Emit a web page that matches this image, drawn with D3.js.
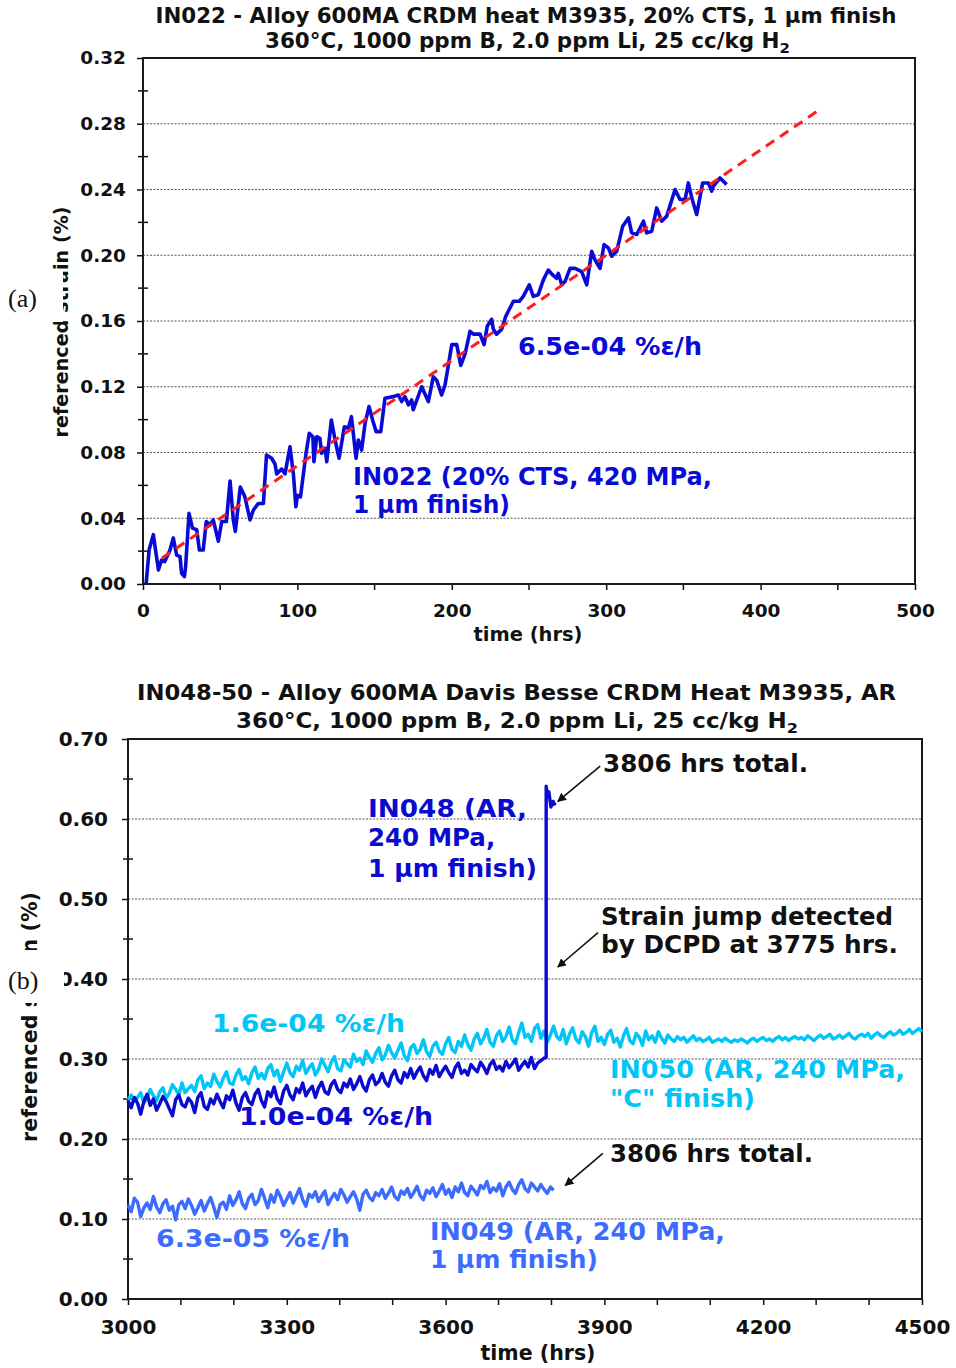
<!DOCTYPE html>
<html><head><meta charset="utf-8">
<script src="https://cdn.jsdelivr.net/npm/d3@7"></script>
<style>
body{margin:0;background:#fff}
svg{display:block}
text{font-family:"DejaVu Sans",Verdana,sans-serif;font-weight:bold}
</style>
</head><body>
<svg id="c" width="956" height="1368"></svg>
<script>
// ---------------- DATA: panel (a) ----------------
const topTimes = [2,4,6.7,10,12,14,17.5,19.6,21.8,24,25,26.8,27.6,29.8,32,34.8,36.5,39,41,43.4,45.5,48.8,51,54,56.4,58.5,59.8,63,66,69.3,71.5,74.7,78,80,83.3,85.5,86.6,89.8,92,95.2,97.4,99,100,102,105.6,107.7,110,110.7,112.5,114.6,115.7,118,119,122,124.4,127,130.4,133,135,138,139.5,141.6,143.8,146.4,148.7,151,154,156.7,162,165.4,167.5,169.7,171.9,174,175,180.5,184.8,188,190.2,193.4,195.6,200,203.2,205.8,208.6,211.8,214,218.3,220.9,223,225.8,226.9,229,232.3,235,239.9,243.7,246.3,250.2,252.8,256,259.3,262.5,265.3,267.9,269,271.2,273.3,276.6,279.8,284.1,287.4,290.6,292.8,296,298.6,301.4,303.6,306.8,310.7,314.4,316.5,319.8,324.1,326.2,329.5,332.7,335.9,339.2,344.6,347.8,351.1,353.2,355.4,358.6,362.5,366.2,368.3,369.4,373.7,378];
const topStrain = [0.000,0.021,0.030,0.0085,0.0146,0.0136,0.0207,0.028,0.0176,0.0166,0.0065,0.0045,0.0105,0.043,0.034,0.033,0.0207,0.0207,0.038,0.036,0.039,0.026,0.038,0.038,0.0627,0.039,0.032,0.059,0.053,0.039,0.045,0.049,0.049,0.0785,0.0765,0.073,0.067,0.070,0.067,0.0835,0.067,0.047,0.054,0.053,0.0795,0.0917,0.0896,0.0744,0.0896,0.0886,0.0795,0.0825,0.0744,0.0998,0.0876,0.0765,0.0957,0.0947,0.1018,0.0765,0.0876,0.0815,0.0977,0.108,0.0998,0.0927,0.0927,0.113,0.114,0.115,0.111,0.114,0.109,0.112,0.106,0.120,0.111,0.126,0.124,0.115,0.121,0.1456,0.1456,0.133,0.140,0.1537,0.152,0.152,0.1456,0.157,0.161,0.155,0.152,0.155,0.163,0.172,0.172,0.175,0.182,0.175,0.176,0.185,0.191,0.188,0.186,0.189,0.182,0.184,0.192,0.192,0.190,0.182,0.2024,0.197,0.192,0.2065,0.2045,0.1994,0.2024,0.2177,0.2227,0.2136,0.2126,0.2207,0.2136,0.2146,0.2288,0.2207,0.2238,0.240,0.2339,0.2339,0.244,0.235,0.2248,0.244,0.244,0.239,0.242,0.247,0.243];
const topFitTimes = [12.3, 439.8];
const topFitStrain = [0.0158, 0.2896];
const topYTicks = [0,0.04,0.08,0.12,0.16,0.20,0.24,0.28,0.32];
const topYMinor = [0.02,0.06,0.10,0.14,0.18,0.22,0.26,0.30];
const topXTicks = [0,100,200,300,400,500];
const topXMinor = [50,150,250,350,450];
const topGrid = [0.04,0.08,0.12,0.16,0.20,0.24,0.28];

// ---------------- DATA: panel (b) ----------------
const botStart = 3000, botStep = 6; // sample spacing of the logged series (hrs)
const in048Strain = [
.248,.239,.252,.245,.231,.247,.256,.242,.250,.236,
.244,.253,.247,.238,.229,.249,.255,.243,.240,.251,
.246,.233,.252,.258,.241,.237,.250,.244,.256,.247,
.239,.254,.249,.261,.245,.236,.252,.258,.247,.243,
.256,.262,.248,.240,.259,.253,.265,.250,.244,.260,
.267,.255,.249,.263,.258,.270,.254,.261,.266,.252,
.264,.271,.259,.256,.268,.273,.262,.258,.270,.265,
.275,.262,.269,.278,.266,.260,.274,.280,.268,.272,
.282,.271,.266,.279,.286,.274,.270,.283,.277,.288,
.276,.284,.290,.279,.273,.287,.281,.292,.278,.285,
.291,.283,.277,.289,.295,.282,.286,.280,.293,.288,
.284,.296,.290,.282,.293,.298,.287,.291,.285,.297,
.289,.294,.300,.286,.292,.297,.290,.302,.288,.295,
.298,.301];
const in048TailTimes = [3790,3790,3792,3795,3799,3803,3807];
const in048TailStrain = [.302,.641,.628,.634,.615,.622,.617];
const in050Strain = [
.249,.255,.247,.252,.258,.245,.251,.262,.254,.248,
.259,.264,.251,.257,.268,.262,.255,.270,.258,.263,
.267,.259,.274,.279,.263,.270,.266,.281,.272,.265,
.276,.284,.270,.268,.280,.287,.274,.278,.269,.283,
.290,.276,.282,.275,.288,.293,.279,.286,.272,.284,
.295,.283,.278,.291,.286,.298,.282,.289,.294,.280,
.287,.300,.292,.284,.296,.303,.288,.285,.299,.294,
.290,.306,.297,.301,.293,.310,.302,.296,.307,.314,
.299,.305,.317,.308,.301,.311,.320,.304,.298,.314,
.318,.307,.312,.324,.309,.303,.316,.321,.310,.306,
.319,.327,.312,.308,.322,.316,.330,.318,.311,.325,
.332,.319,.326,.337,.321,.316,.329,.335,.322,.328,
.340,.324,.319,.333,.345,.327,.331,.322,.338,.343,
.326,.335,.321,.330,.341,.328,.324,.337,.319,.331,
.339,.325,.320,.334,.328,.316,.333,.341,.322,.327,
.318,.331,.336,.321,.326,.315,.329,.338,.323,.319,
.332,.327,.317,.335,.324,.329,.321,.334,.326,.320,
.330,.325,.322,.328,.324,.327,.321,.325,.329,.323,
.326,.322,.324,.327,.321,.323,.325,.322,.326,.323,
.321,.324,.322,.325,.323,.320,.324,.326,.322,.325,
.327,.323,.325,.322,.326,.328,.324,.327,.323,.326,
.328,.325,.327,.324,.329,.326,.323,.327,.330,.326,
.328,.331,.325,.327,.330,.326,.329,.332,.327,.325,
.329,.331,.328,.332,.326,.330,.333,.329,.327,.331,
.334,.330,.332,.336,.331,.333,.337,.332,.335,.338,.334];
const in049Strain = [
.118,.109,.126,.121,.103,.114,.120,.112,.128,.115,
.108,.119,.124,.111,.116,.099,.118,.122,.113,.125,
.117,.106,.114,.123,.110,.119,.127,.115,.102,.118,
.121,.112,.129,.117,.124,.134,.119,.113,.126,.131,
.118,.123,.137,.126,.114,.130,.121,.136,.128,.117,
.125,.133,.120,.129,.138,.124,.116,.131,.127,.134,
.122,.129,.135,.118,.126,.132,.124,.137,.130,.121,
.128,.134,.125,.111,.131,.136,.127,.123,.133,.129,
.137,.126,.132,.140,.128,.124,.135,.131,.138,.127,
.133,.141,.129,.124,.136,.132,.139,.128,.135,.143,
.131,.137,.127,.140,.134,.145,.133,.129,.141,.136,
.130,.142,.138,.147,.133,.139,.135,.144,.129,.140,
.146,.137,.132,.143,.149,.138,.134,.145,.140,.135,
.143,.137,.132,.140,.136];
const botYTicks = [0,0.10,0.20,0.30,0.40,0.50,0.60,0.70];
const botYMinor = [0.05,0.15,0.25,0.35,0.45,0.55,0.65];
const botXTicks = [3000,3300,3600,3900,4200,4500];
const botXMinor = [3100,3200,3400,3500,3700,3800,4000,4100,4300,4400];
const botGrid = [0.10,0.20,0.30,0.40,0.50,0.60];

const C048 = "#0b0bd0", C050 = "#00c6f8", C049 = "#3c6cff", CTOP = "#0a0ad6";

const svg = d3.select("#c");
svg.append("defs").append("marker").attr("id","arr").attr("viewBox","0 0 10 10")
  .attr("refX",9).attr("refY",5).attr("markerWidth",9).attr("markerHeight",9)
  .attr("markerUnits","userSpaceOnUse").attr("orient","auto")
  .append("path").attr("d","M0,0L10,5L0,10Z").attr("fill","#111");

function txt(g, s, x, y, opt) {
  const t = g.append("text").attr("x", x).attr("y", y)
    .attr("font-size", opt.fs).attr("fill", opt.fill || "#111")
    .attr("text-anchor", opt.anchor || "start");
  if (opt.len) t.attr("textLength", opt.len).attr("lengthAdjust", "spacingAndGlyphs");
  if (opt.sub) {
    t.append("tspan").text(s);
    t.append("tspan").attr("dy", 5).attr("font-size", opt.fs*0.7).text(opt.sub);
  } else t.text(s);
  return t;
}

function panel(p) {
  const g = svg.append("g");
  const x = d3.scaleLinear().domain(p.xDom).range([p.L, p.R]);
  const y = d3.scaleLinear().domain(p.yDom).range([p.B, p.T]);
  g.selectAll("line.grid").data(p.grid).join("line")
    .attr("x1", p.L).attr("x2", p.R).attr("y1", d => y(d)).attr("y2", d => y(d))
    .attr("stroke", "#555").attr("stroke-width", 1).attr("stroke-dasharray", "2,1.5");
  const ya = g.append("g").attr("transform", `translate(${p.L},0)`)
    .call(d3.axisLeft(y).tickValues(p.yTicks).tickFormat(d3.format(".2f"))
      .tickSize(6).tickSizeOuter(0).tickPadding(p.yPad));
  const xa = g.append("g").attr("transform", `translate(0,${p.B})`)
    .call(d3.axisBottom(x).tickValues(p.xTicks).tickFormat(d3.format("d"))
      .tickSize(6).tickSizeOuter(0).tickPadding(p.xPad));
  [ya, xa].forEach(a => {
    a.attr("font-family", null).attr("font-size", null);
    a.select(".domain").remove();
    a.selectAll(".tick line").attr("stroke", "#111").attr("stroke-width", 1.5);
    a.selectAll("text").attr("font-size", p.tickFs).attr("fill", "#111");
  });
  g.selectAll("line.ym").data(p.yMinor).join("line")
    .attr("x1", p.L - 5).attr("x2", p.L + 5).attr("y1", d => y(d)).attr("y2", d => y(d))
    .attr("stroke", "#111").attr("stroke-width", 1.5);
  g.selectAll("line.xm").data(p.xMinor).join("line")
    .attr("x1", d => x(d)).attr("x2", d => x(d)).attr("y1", p.B).attr("y2", p.B + 6)
    .attr("stroke", "#111").attr("stroke-width", 1.5);
  g.append("rect").attr("x", p.L).attr("y", p.T).attr("width", p.R - p.L).attr("height", p.B - p.T)
    .attr("fill", "none").attr("stroke", "#1a1a1a").attr("stroke-width", 2);
  return {g, x, y};
}

// ---------------- Panel (a) ----------------
const A = panel({xDom:[0,500], yDom:[0,0.32], L:143, R:915, T:58, B:584,
  grid: topGrid, yTicks: topYTicks, xTicks: topXTicks, yMinor: topYMinor, xMinor: topXMinor,
  yPad: 11, xPad: 14, tickFs: 18.5});
const lineA = d3.line().x((d, i) => A.x(topTimes[i])).y(d => A.y(d));
A.g.append("path").attr("d", lineA(topStrain)).attr("fill", "none")
  .attr("stroke", CTOP).attr("stroke-width", 3.6).attr("stroke-linejoin", "round");
const fitLine = d3.line().x((d, i) => A.x(topFitTimes[i])).y(d => A.y(d));
A.g.append("path").attr("d", fitLine(topFitStrain)).attr("fill", "none")
  .attr("stroke", "#ff1c1c").attr("stroke-width", 3).attr("stroke-dasharray", "10,7");

txt(A.g, "IN022 - Alloy 600MA CRDM heat M3935, 20% CTS, 1 µm finish", 526, 23, {fs:20.5, anchor:"middle", len:741});
txt(A.g, "360°C, 1000 ppm B, 2.0 ppm Li, 25 cc/kg H", 527.5, 48, {fs:20.5, anchor:"middle", len:525, sub:"2"});
txt(A.g, "time (hrs)", 528, 641, {fs:19.5, anchor:"middle", len:109});
txt(A.g, "6.5e-04 %ε/h", 518, 355, {fs:24.5, fill:CTOP, len:184});
txt(A.g, "IN022 (20% CTS, 420 MPa,", 353, 485, {fs:24.5, fill:CTOP, len:359});
txt(A.g, "1 µm finish)", 353, 513, {fs:24.5, fill:CTOP, len:157});
A.g.append("text").attr("transform", "translate(68,322) rotate(-90)").attr("text-anchor", "middle")
  .attr("font-size", 19).attr("fill", "#111").attr("textLength", 231).text("referenced strain (%)");
A.g.append("rect").attr("x", 0).attr("y", 271).attr("width", 63).attr("height", 51).attr("fill", "#fff");
A.g.append("text").attr("x", 8).attr("y", 307).attr("font-size", 26)
  .style("font-family", "'Liberation Serif','Times New Roman',serif").style("font-weight", "normal")
  .attr("fill", "#111").text("(a)");

// ---------------- Panel (b) ----------------
const B = panel({xDom:[3000,4500], yDom:[0,0.70], L:128, R:922, T:739, B:1299,
  grid: botGrid, yTicks: botYTicks, xTicks: botXTicks, yMinor: botYMinor, xMinor: botXMinor,
  yPad: 14, xPad: 15, tickFs: 20});
const tOf = i => botStart + botStep * i;
const t050 = in050Strain.map((d, i) => tOf(i));
const t049 = in049Strain.map((d, i) => tOf(i));
const t048 = in048Strain.map((d, i) => tOf(i)).concat(in048TailTimes);
const v048 = in048Strain.concat(in048TailStrain);
function series(times, vals, color) {
  const ln = d3.line().x((d, i) => B.x(times[i])).y(d => B.y(d));
  B.g.append("path").attr("d", ln(vals)).attr("fill", "none").attr("stroke", color)
    .attr("stroke-width", 3.4).attr("stroke-linejoin", "round");
}
series(t050, in050Strain, C050);
series(t048, v048, C048);
series(t049, in049Strain, C049);

txt(B.g, "IN048-50 - Alloy 600MA Davis Besse CRDM Heat M3935, AR", 516.5, 700, {fs:20.5, anchor:"middle", len:759});
txt(B.g, "360°C, 1000 ppm B, 2.0 ppm Li, 25 cc/kg H", 517, 728, {fs:20.5, anchor:"middle", len:562, sub:"2"});
txt(B.g, "time (hrs)", 538, 1360, {fs:20.5, anchor:"middle", len:115});
txt(B.g, "3806 hrs total.", 603, 772, {fs:24.5, len:205});
txt(B.g, "Strain jump detected", 601, 924.5, {fs:24.5, len:292});
txt(B.g, "by DCPD at 3775 hrs.", 601, 953, {fs:24.5, len:297});
txt(B.g, "IN048 (AR,", 368, 817, {fs:24.5, fill:C048, len:159});
txt(B.g, "240 MPa,", 368, 846, {fs:24.5, fill:C048});
txt(B.g, "1 µm finish)", 368, 877, {fs:24.5, fill:C048, len:169});
txt(B.g, "1.6e-04 %ε/h", 212, 1032, {fs:24.5, fill:C050, len:193});
txt(B.g, "1.0e-04 %ε/h", 239, 1125, {fs:24.5, fill:C048, len:194});
txt(B.g, "6.3e-05 %ε/h", 156, 1247, {fs:24.5, fill:C049, len:194});
txt(B.g, "IN050 (AR, 240 MPa,", 610, 1078, {fs:24.5, fill:C050, len:295});
txt(B.g, "\"C\" finish)", 610, 1107, {fs:24.5, fill:C050, len:145});
txt(B.g, "IN049 (AR, 240 MPa,", 430, 1240, {fs:24.5, fill:C049, len:295});
txt(B.g, "1 µm finish)", 430, 1268, {fs:24.5, fill:C049, len:168});
txt(B.g, "3806 hrs total.", 610, 1162, {fs:24.5, len:203});

const arrows = [[3892,0.666,3812,0.622],[3888,0.458,3812,0.415],[3897,0.182,3826,0.142]];
B.g.selectAll("line.arrow").data(arrows).join("line")
  .attr("x1", d => B.x(d[0])).attr("y1", d => B.y(d[1]))
  .attr("x2", d => B.x(d[2])).attr("y2", d => B.y(d[3]))
  .attr("stroke", "#111").attr("stroke-width", 1.6).attr("marker-end", "url(#arr)");

B.g.append("text").attr("transform", "translate(37,1017) rotate(-90)").attr("text-anchor", "middle")
  .attr("font-size", 20.5).attr("fill", "#111").attr("textLength", 250).text("referenced strain (%)");
B.g.append("rect").attr("x", 0).attr("y", 950).attr("width", 64).attr("height", 53).attr("fill", "#fff");
B.g.append("text").attr("x", 8).attr("y", 989).attr("font-size", 26)
  .style("font-family", "'Liberation Serif','Times New Roman',serif").style("font-weight", "normal")
  .attr("fill", "#111").text("(b)");
</script>
</body></html>
